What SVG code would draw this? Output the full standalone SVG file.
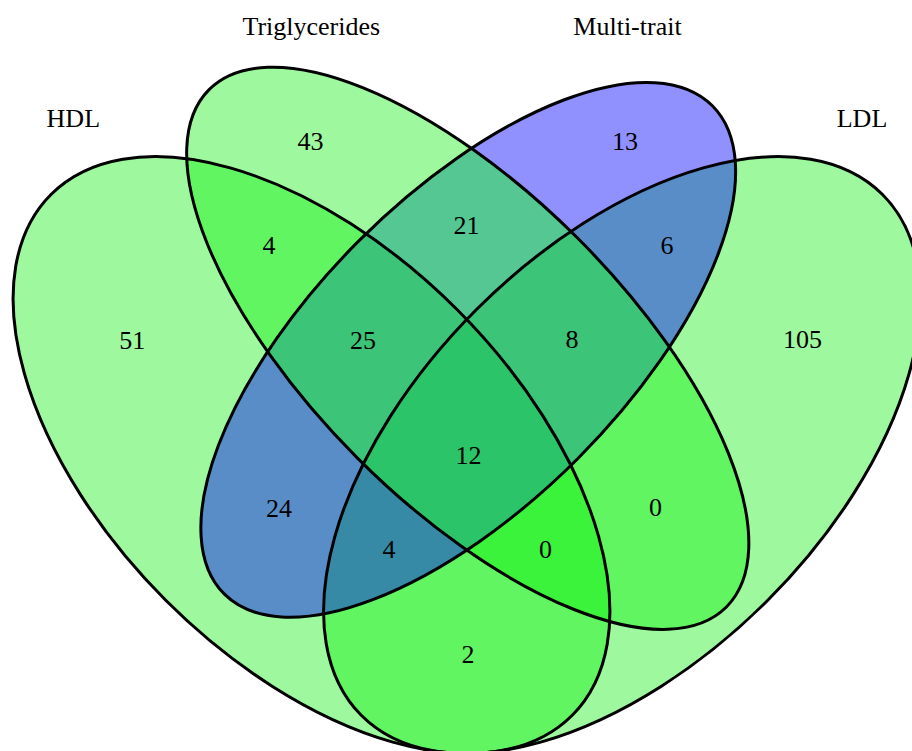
<svg xmlns="http://www.w3.org/2000/svg" width="912" height="751" viewBox="0 0 912 751">
<style>
.g{fill:#00F000;fill-opacity:0.38;stroke:none}
.b{fill:#0000FF;fill-opacity:0.435;stroke:none}
.t{fill:#4BFF6E;fill-opacity:0.25;stroke:none}
.o{fill:none;stroke:#000;stroke-width:3}
text{font-family:"Liberation Serif","Times New Roman",serif;font-size:26px;fill:#000;text-anchor:middle}
</style>
<rect width="912" height="751" fill="#fff"/>
<defs>
<ellipse id="eHDL" cx="311.5" cy="455" rx="368.4" ry="205.8" transform="rotate(45 311.5 455)"/>
<ellipse id="eLDL" cx="622" cy="455" rx="368.4" ry="205.8" transform="rotate(-45 622 455)"/>
<ellipse id="eMT" cx="468.25" cy="349.8" rx="345.2" ry="154.4" transform="rotate(-45 468.25 349.8)"/>
<ellipse id="eTG" cx="467.75" cy="348.3" rx="365.8" ry="155.6" transform="rotate(45 467.75 348.3)"/>
<clipPath id="cMT"><ellipse cx="468.25" cy="349.8" rx="345.2" ry="154.4" transform="rotate(-45 468.25 349.8)"/></clipPath>
</defs>
<g id="HDL"><use href="#eHDL" class="g"/><text x="73.3" y="127.3">HDL</text></g>
<g id="LDL"><use href="#eLDL" class="g"/><text x="862" y="127.3">LDL</text></g>
<g id="Multi-trait"><use href="#eMT" class="b"/><text x="627.5" y="35.3">Multi-trait</text></g>
<g id="Triglycerides"><use href="#eTG" class="g"/><use href="#eTG" class="t" clip-path="url(#cMT)"/><text x="311.3" y="35.3">Triglycerides</text></g>
<g id="outlines">
<use href="#eHDL" class="o"/>
<use href="#eLDL" class="o"/>
<use href="#eMT" class="o"/>
<use href="#eTG" class="o"/>
</g>
<g id="counts">
<text x="310.5" y="150">43</text>
<text x="625" y="150">13</text>
<text x="269" y="254.3">4</text>
<text x="466.5" y="234">21</text>
<text x="667" y="254.3">6</text>
<text x="132.3" y="349.3">51</text>
<text x="363" y="349.3">25</text>
<text x="572" y="348.3">8</text>
<text x="802.5" y="348.3">105</text>
<text x="468.5" y="464">12</text>
<text x="279" y="516.7">24</text>
<text x="655.5" y="516">0</text>
<text x="389" y="558.3">4</text>
<text x="545.5" y="558.3">0</text>
<text x="468" y="662.7">2</text>
</g>
</svg>
